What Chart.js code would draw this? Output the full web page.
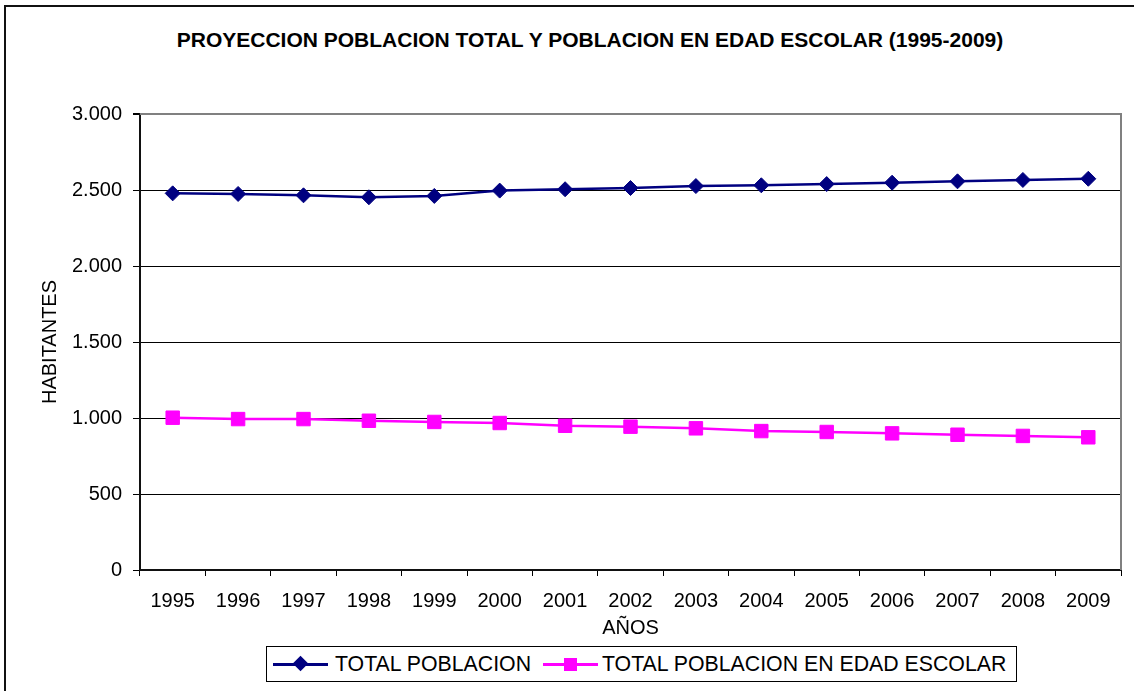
<!DOCTYPE html>
<html>
<head>
<meta charset="utf-8">
<script src="https://cdn.jsdelivr.net/npm/chart.js@4.4.1/dist/chart.umd.min.js"></script>
<style>
  body { margin: 0; background: #fff; font-family: 'Liberation Sans', Arial, sans-serif; }
  #wrap { position: relative; width: 1134px; height: 691px; overflow: hidden; }
  #frame { position: absolute; left: 4px; top: 5px; width: 1200px; height: 800px; border-left: 2px solid #111; border-top: 2px solid #111; }
  #title { position: absolute; left: 0; top: 28px; width: 1180px; text-align: center; font-weight: bold; font-size: 21px; line-height: 24px; color: #000; }
  #myChart { position: absolute; left: 0; top: 0; }
  #legend { position: absolute; left: 266px; top: 646px; width: 749px; height: 34px; border: 1px solid #000; background: #fff; font-size: 21.3px; }
  .item { position: absolute; top: 0; height: 34px; line-height: 34px; white-space: nowrap; }
  .line { position: absolute; top: 16px; height: 3px; }
  .mark { position: absolute; }
</style>
</head>
<body>
<div id="wrap">
  <div id="frame"></div>
  <div id="title">PROYECCION POBLACION TOTAL Y POBLACION EN EDAD ESCOLAR (1995-2009)</div>
  <canvas id="myChart" width="1134" height="691"></canvas>
  <div id="legend">
    <div class="line" style="left:6px;width:55px;background:#000080"></div>
    <div class="mark" style="left:28px;top:11px;width:11px;height:11px;background:#000080;transform:rotate(45deg)"></div>
    <div class="item" style="left:68px">TOTAL POBLACION</div>
    <div class="line" style="left:276px;width:55px;background:#ff00ff"></div>
    <div class="mark" style="left:297px;top:11px;width:13px;height:13px;background:#ff00ff"></div>
    <div class="item" style="left:335px">TOTAL POBLACION EN EDAD ESCOLAR</div>
  </div>
</div>
<script>
// datos
let years = ['1995', '1996', '1997', '1998', '1999', '2000', '2001', '2002', '2003', '2004', '2005', '2006', '2007', '2008', '2009'];
let totalPoblacion = [2478, 2474, 2465, 2452, 2461, 2496, 2505, 2513, 2526, 2531, 2539, 2548, 2557, 2566, 2574];
let edadEscolar = [1002, 993, 993, 982, 974, 967, 949, 943, 932, 914, 908, 899, 890, 882, 873];
let yTicks = [0, 500, 1000, 1500, 2000, 2500, 3000];

// miles con punto: 2500 -> 2.500
function formatMiles(v) {
    return String(v).replace(/\B(?=(\d{3})+(?!\d))/g, '.');
}

// borde gris del area de trazado (arriba y derecha)
const plotBorder = {
    id: 'plotBorder',
    beforeDatasetsDraw(chart) {
        let a = chart.chartArea;
        let c = chart.ctx;
        c.save();
        c.strokeStyle = '#808080';
        c.lineWidth = 2;
        c.beginPath();
        c.moveTo(a.left, a.top);
        c.lineTo(a.right, a.top);
        c.lineTo(a.right, a.bottom);
        c.stroke();
        c.restore();
    }
};

Chart.defaults.font.family = "'Liberation Sans', Arial, sans-serif";
Chart.defaults.color = '#000';

let ctx = document.getElementById('myChart').getContext('2d');
let myChart = new Chart(ctx, {
    type: 'line',
    data: {
        labels: years,
        datasets: [{
            label: 'TOTAL POBLACION',
            data: totalPoblacion,
            borderColor: '#000080',
            backgroundColor: '#000080',
            borderWidth: 2.5,
            pointStyle: 'rectRot',
            pointRadius: 7.5,
            pointBorderWidth: 1,
            tension: 0
        }, {
            label: 'TOTAL POBLACION EN EDAD ESCOLAR',
            data: edadEscolar,
            borderColor: '#ff00ff',
            backgroundColor: '#ff00ff',
            borderWidth: 2.5,
            pointStyle: 'rect',
            pointRadius: 9.5,
            pointBorderWidth: 1,
            tension: 0
        }]
    },
    options: {
        responsive: false,
        devicePixelRatio: 1,
        animation: false,
        layout: { padding: { top: 114, left: 0, right: 13, bottom: 51 } },
        plugins: {
            legend: { display: false },
            title: { display: false },
            tooltip: { enabled: false }
        },
        scales: {
            x: {
                offset: true,
                grid: { offset: true, drawOnChartArea: false, drawTicks: true, tickLength: 6, color: '#000' },
                border: { color: '#111', width: 2 },
                ticks: { font: { size: 20 }, padding: 13, maxRotation: 0, autoSkip: false },
                title: { display: true, text: 'AÑOS', font: { size: 20 }, padding: { top: 0, bottom: 0 } },
                afterFit(scale) { scale.height = 70; }
            },
            y: {
                min: 0,
                max: 3000,
                afterBuildTicks(scale) { scale.ticks = yTicks.map(v => ({ value: v })); },
                grid: {
                    color: c => (c.tick && c.tick.value === 3000) ? '#808080' : '#000',
                    lineWidth: c => (c.tick && c.tick.value === 3000) ? 2 : 1,
                    tickLength: 7,
                    tickColor: '#000'
                },
                border: { color: '#111', width: 2 },
                ticks: { font: { size: 20 }, padding: 11, callback: v => formatMiles(v) },
                title: { display: true, text: 'HABITANTES', font: { size: 20 }, padding: { top: 38, bottom: 0 } },
                afterFit(scale) { scale.width = 140; }
            }
        }
    },
    plugins: [plotBorder]
});
</script>
</body>
</html>
